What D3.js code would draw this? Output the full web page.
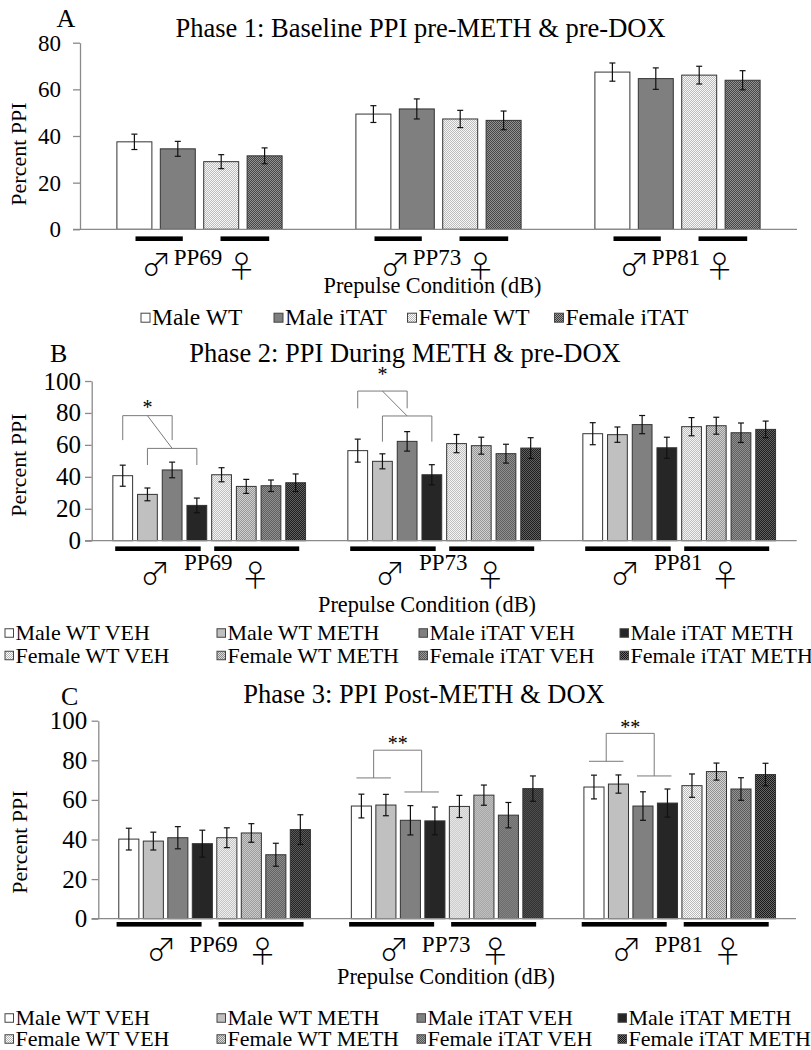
<!DOCTYPE html>
<html><head><meta charset="utf-8">
<script src="https://cdn.jsdelivr.net/npm/d3@7"></script>
<style>
body{margin:0;background:#fff;}
svg{display:block;}
text{font-family:"Liberation Serif","Times New Roman",serif;fill:#000;}
</style>
</head><body>
<svg id="chart" width="811" height="1050"></svg>
<script>
// ---------------- DATA ----------------
const ppCategories = ["PP69", "PP73", "PP81"];
const yTicksA = [0, 20, 40, 60, 80];
const yTicksBC = [0, 20, 40, 60, 80, 100];

const phase1Series = ["Male WT", "Male iTAT", "Female WT", "Female iTAT"];
const phase1Values = [[37.5, 34.5, 29.0, 31.5], [49.4, 51.6, 47.3, 46.7], [67.4, 64.6, 66.1, 63.9]];
const phase1Errors = [[3.3, 3.2, 3.0, 3.4], [3.6, 4.3, 3.7, 4.0], [3.9, 4.6, 3.8, 4.1]];

const treatSeries = ["Male WT VEH", "Male WT METH", "Male iTAT VEH", "Male iTAT METH",
                     "Female WT VEH", "Female WT METH", "Female iTAT VEH", "Female iTAT METH"];
const phase2Values = [[40.7, 29.0, 44.3, 22.1, 41.3, 34.0, 34.4, 36.3],
                      [56.4, 49.7, 62.2, 41.3, 60.8, 59.5, 54.5, 58.0],
                      [67.0, 66.4, 72.7, 58.2, 71.4, 72.0, 67.6, 69.7]];
const phase2Errors = [[6.6, 4.0, 4.9, 4.6, 4.4, 4.4, 3.6, 5.5],
                      [7.2, 4.7, 6.1, 6.3, 5.7, 5.3, 5.9, 6.5],
                      [6.9, 4.8, 5.7, 6.6, 5.7, 5.3, 6.1, 5.2]];
const phase3Values = [[40.2, 39.2, 40.9, 37.9, 40.9, 43.3, 32.3, 45.0],
                      [56.9, 57.4, 49.7, 49.4, 56.7, 62.4, 52.3, 65.7],
                      [66.5, 68.0, 56.9, 58.4, 67.2, 74.3, 65.5, 72.8]];
const phase3Errors = [[5.5, 4.5, 5.6, 6.8, 5.0, 4.7, 5.8, 7.5],
                      [6.0, 5.4, 7.4, 7.0, 5.6, 5.1, 6.4, 6.4],
                      [6.0, 4.6, 7.2, 7.1, 5.9, 4.3, 5.7, 5.7]];

// significance annotations (value units)
const phase2SigCats = ["PP69", "PP73"];
const phase2SigUpper = [[78.3, 63.0], [93.7, 82.9]];   // [bracket level, leg end] bars 1 & 3
const phase2SigLower = [[57.8, 47.4], [78.1, 62.0]];   // bars 2 & 4
const phase2StarY = [85, 105.5];
const phase2Stars = ["*", "*"];

const phase3SigCats = ["PP73", "PP81"];
const phase3SigPairs = [[71.1, 64.0], [79.5, 72.1]];   // lines over bars 1-2 and 3-4
const phase3SigTop = [85.1, 93.6];
const phase3StarY = [89.5, 98.0];
const phase3Stars = ["**", "**"];

const titles = ["Phase 1: Baseline PPI pre-METH & pre-DOX",
                "Phase 2: PPI During METH & pre-DOX",
                "Phase 3: PPI Post-METH & DOX"];
const panelLetters = ["A", "B", "C"];
const yLabel = "Percent PPI";
const xLabel = "Prepulse Condition (dB)";
const maleSymbol = "\u2642", femaleSymbol = "\u2640";

// ---------------- DRAW ----------------
const svg = d3.select("#chart");
const defs = svg.append("defs");
function checker(id, c1, c2) {
  const p = defs.append("pattern").attr("id", id).attr("width", 2).attr("height", 2)
    .attr("patternUnits", "userSpaceOnUse");
  p.append("rect").attr("width", 2).attr("height", 2).attr("fill", c1);
  p.append("rect").attr("width", 1).attr("height", 1).attr("fill", c2);
  p.append("rect").attr("x", 1).attr("y", 1).attr("width", 1).attr("height", 1).attr("fill", c2);
  return `url(#${id})`;
}
const fills1 = ["#ffffff", "#7f7f7f", checker("p1f", "#ffffff", "#b4b4b4"), checker("p1i", "#9c9c9c", "#3c3c3c")];
const fills2 = ["#ffffff", "#c0c0c0", "#808080", "#262626",
  checker("pfwv", "#ffffff", "#b4b4b4"), checker("pfwm", "#dcdcdc", "#8a8a8a"),
  checker("pfiv", "#9a9a9a", "#555555"), checker("pfim", "#6e6e6e", "#111111")];

const symFont = "'Noto Sans CJK JP','Noto Sans CJK SC','DejaVu Sans',sans-serif";

function panel(o) {
  const g = svg.append("g");
  const x0 = d3.scaleBand().domain(ppCategories).range(o.xRange);
  const x1 = d3.scaleBand().domain(o.series).range([0, o.groupW]).paddingInner(o.pad);
  const y = d3.scaleLinear().domain([0, o.yMax]).range([o.y0, o.yTop]);
  const gx = c => x0(c) + x0.bandwidth() / 2 - o.groupW / 2;
  const cx = c => x0(c) + x0.bandwidth() / 2;
  const bc = (c, i) => gx(c) + x1(o.series[i]) + x1.bandwidth() / 2;

  const ax = g.append("g").attr("transform", `translate(${o.xRange[0]},0)`)
    .call(d3.axisLeft(y).tickValues(o.ticks).tickSize(o.tickSize).tickPadding(o.tickPad).tickSizeOuter(0));
  ax.select(".domain").attr("stroke", "#8a8a8a").attr("stroke-width", 1.3);
  ax.selectAll(".tick line").attr("stroke", "#8a8a8a").attr("stroke-width", 1.3);
  ax.selectAll(".tick text").attr("font-size", o.tickFont).attr("font-family", "Liberation Serif").attr("fill", "#000");

  ppCategories.forEach((c, ci) => {
    const gg = g.append("g").attr("transform", `translate(${gx(c)},0)`);
    gg.selectAll("rect").data(o.values[ci]).join("rect")
      .attr("x", (d, i) => x1(o.series[i]))
      .attr("y", d => y(d))
      .attr("width", x1.bandwidth())
      .attr("height", d => y(0) - y(d))
      .attr("fill", (d, i) => o.fills[i])
      .attr("stroke", "#333").attr("stroke-width", 1);
    const eb = gg.selectAll("g.eb").data(o.values[ci]).join("g").attr("class", "eb")
      .attr("transform", (d, i) => `translate(${x1(o.series[i]) + x1.bandwidth() / 2},0)`);
    eb.append("line").attr("y1", (d, i) => y(d - o.errors[ci][i])).attr("y2", (d, i) => y(d + o.errors[ci][i]))
      .attr("stroke", "#111").attr("stroke-width", 1.2);
    eb.append("line").attr("x1", -3).attr("x2", 3).attr("y1", (d, i) => y(d + o.errors[ci][i])).attr("y2", (d, i) => y(d + o.errors[ci][i]))
      .attr("stroke", "#111").attr("stroke-width", 1.2);
    eb.append("line").attr("x1", -3).attr("x2", 3).attr("y1", (d, i) => y(d - o.errors[ci][i])).attr("y2", (d, i) => y(d - o.errors[ci][i]))
      .attr("stroke", "#111").attr("stroke-width", 1.2);

    g.append("rect").attr("x", cx(c) + o.male[0]).attr("width", o.male[1] - o.male[0])
      .attr("y", o.sexY - 2.3).attr("height", 4.6).attr("fill", "#000");
    g.append("rect").attr("x", cx(c) + o.female[0]).attr("width", o.female[1] - o.female[0])
      .attr("y", o.sexY - 2.3).attr("height", 4.6).attr("fill", "#000");
    g.append("text").attr("x", cx(c) + o.labDx).attr("y", o.labY).attr("text-anchor", "middle")
      .attr("font-size", 23).text(c);
    g.append("text").attr("x", cx(c) + o.maleDx).attr("y", o.symY).attr("text-anchor", "middle")
      .attr("dominant-baseline", "central")
      .attr("style", `font-family:${symFont};font-size:30px;font-weight:300`).text(maleSymbol);
    g.append("text").attr("x", cx(c) + o.femDx).attr("y", o.symY + 2).attr("text-anchor", "middle")
      .attr("dominant-baseline", "central")
      .attr("style", `font-family:${symFont};font-size:30px;font-weight:300`).text(femaleSymbol);
  });

  g.append("line").attr("x1", o.xRange[0] - o.tickSize).attr("x2", o.xRange[1])
    .attr("y1", y(0)).attr("y2", y(0)).attr("stroke", "#8a8a8a").attr("stroke-width", 1.3);

  g.append("text").attr("x", o.titleX).attr("y", o.titleY).attr("text-anchor", "middle").attr("font-size", 26.5).text(o.title);
  g.append("text").attr("x", o.letterX).attr("y", o.letterY).attr("font-size", 26).text(o.letter);
  g.append("text").attr("transform", `translate(${o.yLabX},${o.yLabY}) rotate(-90)`).attr("text-anchor", "middle")
    .attr("font-size", 22).text(yLabel);
  g.append("text").attr("x", o.xLabX).attr("y", o.xLabY).attr("text-anchor", "middle").attr("font-size", 22.3).text(xLabel);

  return {g, x0, x1, y, bc, cx};
}

function legend(items, fills, cols, rowsY, font, box) {
  const g = svg.append("g");
  items.forEach((name, i) => {
    const r = Math.floor(i / cols.length), c = i % cols.length;
    const yc = rowsY[r];
    g.append("rect").attr("x", cols[c]).attr("y", yc - box / 2).attr("width", box).attr("height", box)
      .attr("fill", fills[i]).attr("stroke", "#444").attr("stroke-width", 1);
    g.append("text").attr("x", cols[c] + box + 2).attr("y", yc + font * 0.33).attr("font-size", font).text(name);
  });
}

// Panel A
panel({
  series: phase1Series, values: phase1Values, errors: phase1Errors, fills: fills1,
  xRange: [80, 797], groupW: 165.2, pad: 0.194, yMax: 80, y0: 229.3, yTop: 42.7,
  ticks: yTicksA, tickSize: 7, tickPad: 12, tickFont: 23,
  male: [-64, -16.7], female: [21, 69.7], sexY: 238.7,
  labDx: -1.5, labY: 265, maleDx: -43, femDx: 42, symY: 262,
  title: titles[0], titleX: 420.5, titleY: 36.7, letter: panelLetters[0], letterX: 56.5, letterY: 27.3,
  yLabX: 26, yLabY: 154, xLabX: 432.5, xLabY: 293
});
legend(phase1Series, fills1, [141, 274, 407.5, 554.5], [317.7], 23.5, 9);

// Panel B
const pB = panel({
  series: treatSeries, values: phase2Values, errors: phase2Errors, fills: fills2,
  xRange: [91.7, 796.7], groupW: 192.7, pad: 0.2, yMax: 100, y0: 540.7, yTop: 381,
  ticks: yTicksBC, tickSize: 6.7, tickPad: 4, tickFont: 25,
  male: [-94, -8.5], female: [5, 90], sexY: 548.7,
  labDx: -1, labY: 570, maleDx: -54, femDx: 46, symY: 571,
  title: titles[1], titleX: 405, titleY: 361.7, letter: panelLetters[1], letterX: 50, letterY: 361.7,
  yLabX: 25.5, yLabY: 465, xLabX: 427, xLabY: 612
});
legend(treatSeries, fills2, [5, 217, 419, 620], [633, 655.5], 22, 8.5);

phase2SigCats.forEach((c, k) => {
  const y = pB.y;
  const b = i => pB.bc(c, i);
  const up = phase2SigUpper[k], lo = phase2SigLower[k];
  const path = d3.path();
  path.moveTo(b(0), y(up[1])); path.lineTo(b(0), y(up[0])); path.lineTo(b(2), y(up[0])); path.lineTo(b(2), y(up[1]));
  path.moveTo(b(1), y(lo[1])); path.lineTo(b(1), y(lo[0])); path.lineTo(b(3), y(lo[0])); path.lineTo(b(3), y(lo[1]));
  path.moveTo((b(0) + b(2)) / 2, y(up[0])); path.lineTo((b(1) + b(3)) / 2, y(lo[0]));
  pB.g.append("path").attr("d", path.toString()).attr("fill", "none").attr("stroke", "#7a7a7a").attr("stroke-width", 1);
  pB.g.append("text").attr("x", (b(0) + b(2)) / 2).attr("y", y(phase2StarY[k]) + 9).attr("text-anchor", "middle")
    .attr("font-size", 20).text(phase2Stars[k]);
});

// Panel C
const pC = panel({
  series: treatSeries, values: phase3Values, errors: phase3Errors, fills: fills2,
  xRange: [98.3, 796], groupW: 191.6, pad: 0.18, yMax: 100, y0: 918.7, yTop: 720.7,
  ticks: yTicksBC, tickSize: 6.7, tickPad: 4.3, tickFont: 25,
  male: [-98, -13], female: [4, 89], sexY: 924.3,
  labDx: -1, labY: 952, maleDx: -53, femDx: 48, symY: 947,
  title: titles[2], titleX: 424, titleY: 703.3, letter: panelLetters[2], letterX: 61, letterY: 705,
  yLabX: 27, yLabY: 842, xLabX: 446, xLabY: 984
});
legend(treatSeries, fills2, [5, 217, 417, 618], [1018, 1039], 22, 8.5);

phase3SigCats.forEach((c, k) => {
  const y = pC.y;
  const b = i => pC.bc(c, i);
  const pr = phase3SigPairs[k];
  const l1 = [b(0) - 5, b(1) + 5], l2 = [b(2) - 6, b(3) + 4];
  const m1 = (l1[0] + l1[1]) / 2, m2 = (l2[0] + l2[1]) / 2;
  const path = d3.path();
  path.moveTo(l1[0], y(pr[0])); path.lineTo(l1[1], y(pr[0]));
  path.moveTo(l2[0], y(pr[1])); path.lineTo(l2[1], y(pr[1]));
  path.moveTo(m1, y(pr[0])); path.lineTo(m1, y(phase3SigTop[k])); path.lineTo(m2, y(phase3SigTop[k])); path.lineTo(m2, y(pr[1]));
  pC.g.append("path").attr("d", path.toString()).attr("fill", "none").attr("stroke", "#7a7a7a").attr("stroke-width", 1);
  pC.g.append("text").attr("x", (m1 + m2) / 2).attr("y", y(phase3StarY[k]) + 9).attr("text-anchor", "middle")
    .attr("font-size", 20).text(phase3Stars[k]);
});
</script>
</body></html>
